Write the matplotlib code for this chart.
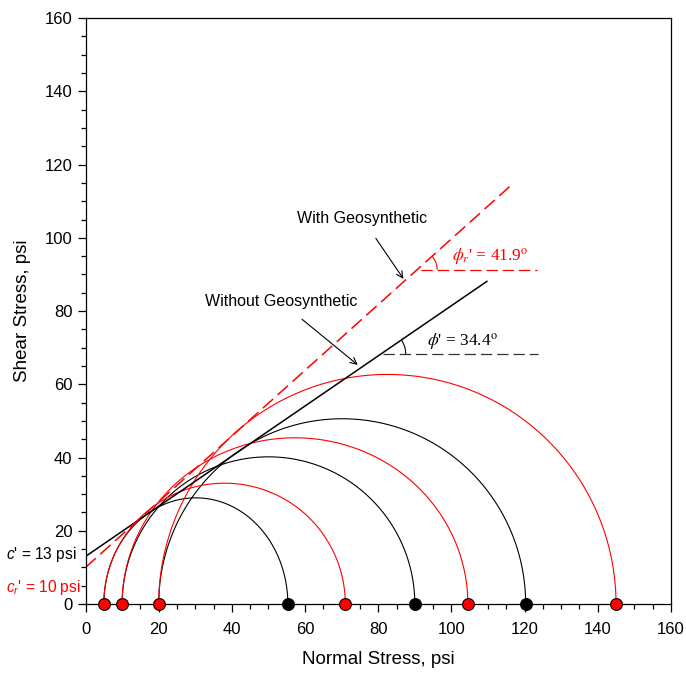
import matplotlib.pyplot as plt
import numpy as np
from matplotlib.patches import Arc
from matplotlib.ticker import MultipleLocator

plt.rcParams['font.family'] = ['Liberation Sans', 'DejaVu Sans']
plt.rcParams['mathtext.fontset'] = 'custom'
plt.rcParams['mathtext.rm'] = 'Liberation Sans'
plt.rcParams['mathtext.it'] = 'Liberation Sans:italic'

# Mohr circles, psi
sigma3 = [5, 10, 20]
sigma1_without = [55.3, 90, 120.3]
peak_without = [29, 40.2, 50.6]
sigma1_with = [71, 104.5, 145]
peak_with = [33, 45.4, 62.7]

# failure envelopes
c_without, phi_without = 13, 34.4
c_with, phi_with = 10, 41.9
x_end_without = 109.7
x_end_with = 117

fig = plt.figure(figsize=(6.86, 6.73), dpi=100)
ax = fig.add_axes([0.1247, 0.1025, 0.8533, 0.8705])

t = np.linspace(0, np.pi, 300)
for s3, s1, pk in zip(sigma3, sigma1_without, peak_without):
    ax.plot((s1 + s3) / 2 + (s1 - s3) / 2 * np.cos(t), pk * np.sin(t),
            color='black', lw=0.8)
for s3, s1, pk in zip(sigma3, sigma1_with, peak_with):
    ax.plot((s1 + s3) / 2 + (s1 - s3) / 2 * np.cos(t), pk * np.sin(t),
            color='red', lw=0.8)

# envelopes
tan_wo = np.tan(np.radians(phi_without))
tan_w = np.tan(np.radians(phi_with))
xs = np.array([0, x_end_without])
ax.plot(xs, c_without + tan_wo * xs, color='black', lw=1.1)
xs = np.array([0, x_end_with])
ax.plot(xs, c_with + tan_w * xs, color='red', lw=1.1, dashes=(9, 4))

# angle markers
y_h = 68.3
x0 = (y_h - c_without) / tan_wo
ax.plot([x0 + 0.5, 123.6], [y_h, y_h], color='#333333', lw=0.9, dashes=(9, 4))
ax.add_patch(Arc((x0, y_h), 13.5, 13.5, theta1=0, theta2=phi_without,
                 color='black', lw=0.8))
ax.text(93.4, 68.9, r"$\phi$' = 34.4$^{\mathrm{o}}$", fontsize=12.5,
        family='Liberation Serif', math_fontfamily='stix', va='bottom')

y_h = 91.3
x0 = (y_h - c_with) / tan_w
ax.plot([x0 + 1, 123.3], [y_h, y_h], color='red', lw=0.9, dashes=(9, 4))
ax.add_patch(Arc((x0, y_h), 11, 11, theta1=0, theta2=phi_with,
                 color='red', lw=0.8))
ax.text(100.2, 92.0, r"$\phi_r$' = 41.9$^{\mathrm{o}}$", fontsize=12.5,
        family='Liberation Serif', math_fontfamily='stix', color='red',
        va='bottom')

# labels with arrows
ax.annotate('With Geosynthetic', xy=(86.9, 88.8), xytext=(75.7, 105.2),
            ha='center', va='center', fontsize=11.5,
            arrowprops=dict(arrowstyle='->', color='black', lw=0.8,
                            shrinkA=8, shrinkB=0))
ax.annotate('Without Geosynthetic', xy=(74.4, 65.3), xytext=(53.4, 82.5),
            ha='center', va='center', fontsize=11.5,
            arrowprops=dict(arrowstyle='->', color='black', lw=0.8,
                            shrinkA=8, shrinkB=0))

ax.text(-2.4, 13.4, "$c$' = 13 psi", ha='right', va='center', fontsize=11.2,
        clip_on=False)
ax.text(-1.4, 4.6, "$c_r$' = 10 psi", ha='right', va='center', fontsize=11.2,
        color='red', clip_on=False)

# stress points
ax.plot(sigma1_without, [0] * 3, 'o', color='black', mec='black', ms=8.5,
        mew=0.8, clip_on=False, zorder=5)
ax.plot(sigma3 + sigma1_with, [0] * 6, 'o', color='red', mec='black', ms=8.5,
        mew=0.8, clip_on=False, zorder=5)

ax.set_xlim(0, 160)
ax.set_ylim(0, 160)
ax.xaxis.set_major_locator(MultipleLocator(20))
ax.yaxis.set_major_locator(MultipleLocator(20))
ax.xaxis.set_minor_locator(MultipleLocator(5))
ax.yaxis.set_minor_locator(MultipleLocator(5))
ax.tick_params(which='both', direction='out', labelsize=12, width=0.9)
ax.tick_params(which='major', length=6)
ax.tick_params(which='minor', length=3.5)
ax.tick_params(axis='x', which='major', pad=7)
for sp in ax.spines.values():
    sp.set_linewidth(0.9)
ax.set_xlabel('Normal Stress, psi', fontsize=13.5, labelpad=10)
ax.set_ylabel('Shear Stress, psi', fontsize=13.5, labelpad=10)

fig.savefig('out.png', dpi=100)
